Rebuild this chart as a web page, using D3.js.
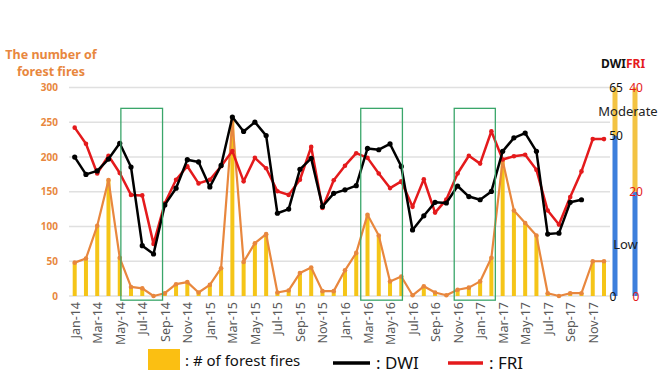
<!DOCTYPE html>
<html>
<head>
<meta charset="utf-8">
<script src="https://cdn.jsdelivr.net/npm/d3@7"></script>
<style>
  body { margin: 0; background: #fff; }
  svg { font-family: "Noto Sans", "Open Sans", sans-serif; }
</style>
</head>
<body>
<svg id="chart" width="666" height="380"></svg>
<script>
// monthly categories, Jan-14 .. Dec-17
var months = ["Jan-14","Feb-14","Mar-14","Apr-14","May-14","Jun-14","Jul-14","Aug-14","Sep-14","Oct-14","Nov-14","Dec-14",
  "Jan-15","Feb-15","Mar-15","Apr-15","May-15","Jun-15","Jul-15","Aug-15","Sep-15","Oct-15","Nov-15","Dec-15",
  "Jan-16","Feb-16","Mar-16","Apr-16","May-16","Jun-16","Jul-16","Aug-16","Sep-16","Oct-16","Nov-16","Dec-16",
  "Jan-17","Feb-17","Mar-17","Apr-17","May-17","Jun-17","Jul-17","Aug-17","Sep-17","Oct-17","Nov-17","Dec-17"];

var fires = [48,54,101,167,55,13,11,0,4,17,20,5,
  16,40,252,49,76,89,5,8,33,41,7,7,
  37,62,117,87,21,28,1,14,5,1,9,12,
  21,55,195,123,105,87,4,0,4,4,50,50];

var dwi = [43.3,37.9,39,42.7,47.6,40.2,15.7,13.1,28.4,33.6,42.5,41.8,
  34,40.7,55.8,51.3,54.2,50,25.8,27.1,39.5,42.9,27.9,32,
  33.1,34.4,46,45.6,47.4,40.4,20.6,25,29.2,29,34.3,31,
  30,32.6,45.1,49.3,50.8,45.1,19.3,19.6,29.2,30,null,null];

var fri = [32.3,29.2,23.5,26.9,23.6,19.4,19.3,10,17.8,22.3,24.9,21.6,
  22.3,24.9,27.8,22,26.5,24.5,20.1,19.4,22.3,28.6,16.9,22.2,
  25,27.4,26.5,23.5,20.7,22,17.1,22.4,16,18.5,23.5,26.9,
  25.4,31.6,26.2,26.8,27.1,24.2,16.4,13.7,19,23.9,30.1,30.1];

var fireTicks = [0,50,100,150,200,250,300];
var dwiTicks = [0,50,65];
var friTicks = [0,20,40];
var titleLines = ["The number of", "forest fires"];
// highlighted periods, as month-index ranges
var boxes = [[4.1,7.8],[25.4,29.1],[33.7,37.35]];

var orange = "#e8873e", barYellow = "#f5c518", red = "#e41a1c", blue = "#3d7fdc", bandYellow = "#f3c343";

var svg = d3.select("#chart");

var x = d3.scalePoint().domain(months).range([74.7, 604]);
var xi = d3.scaleLinear().domain([0, months.length - 1]).range([74.7, 604]);
var y = d3.scaleLinear().domain([0, 300]).range([296, 87.5]);
var yD = d3.scaleLinear().domain([0, 65]).range([296, 87.5]);
var yF = d3.scaleLinear().domain([0, 40]).range([296, 87.5]);

// gridlines
svg.selectAll(".grid")
  .data(fireTicks)
  .enter()
  .append("line")
    .attr("x1", 69).attr("x2", 610)
    .attr("y1", function(d) {return y(d);})
    .attr("y2", function(d) {return y(d);})
    .style("stroke", "#e0e0e0")
    .style("stroke-width", 1.5);

// left axis labels
svg.selectAll(".ltick")
  .data(fireTicks)
  .enter()
  .append("text")
    .text(function(d) {return d;})
    .attr("x", 58)
    .attr("y", function(d) {return y(d) + 3.5;})
    .style("text-anchor", "end")
    .style("font-size", "10px")
    .style("font-weight", "bold")
    .style("fill", orange);

svg.selectAll(".title")
  .data(titleLines)
  .enter()
  .append("text")
    .text(function(d) {return d;})
    .attr("x", 51)
    .attr("y", function(d, i) {return 59 + i * 17;})
    .style("text-anchor", "middle")
    .style("font-size", "12.5px")
    .style("font-weight", "bold")
    .style("fill", orange);

// x axis labels (every second month)
svg.selectAll(".xlab")
  .data(months.filter(function(d, i) {return i % 2 === 0;}))
  .enter()
  .append("text")
    .text(function(d) {return d;})
    .attr("transform", function(d) {return "translate(" + (x(d) + 5) + ",302) rotate(-90)";})
    .style("text-anchor", "end")
    .style("font-size", "12.5px")
    .style("fill", "#595959");

// bars
svg.selectAll(".bar")
  .data(fires)
  .enter()
  .append("rect")
    .attr("x", function(d, i) {return x(months[i]) - 2;})
    .attr("y", function(d) {return y(d);})
    .attr("width", 4)
    .attr("height", function(d) {return y(0) - y(d);})
    .attr("fill", barYellow);

function drawSeries(values, scale, color, width, r) {
  var pts = values.map(function(v, i) {return {m: months[i], v: v};});
  svg.append("path")
    .datum(pts)
    .attr("fill", "none")
    .attr("stroke", color)
    .attr("stroke-width", width)
    .attr("stroke-linejoin", "round")
    .attr("d", d3.line()
      .defined(function(d) {return d.v !== null;})
      .x(function(d) {return x(d.m);})
      .y(function(d) {return scale(d.v);}));
  svg.append("g").selectAll("circle")
    .data(pts.filter(function(d) {return d.v !== null;}))
    .enter()
    .append("circle")
      .attr("cx", function(d) {return x(d.m);})
      .attr("cy", function(d) {return scale(d.v);})
      .attr("r", r)
      .attr("fill", color);
}

drawSeries(fires, y, orange, 2.2, 2.3);
drawSeries(fri, yF, red, 2.5, 2.3);
drawSeries(dwi, yD, "#000", 2.5, 2.6);

// green highlight boxes
svg.selectAll(".box")
  .data(boxes)
  .enter()
  .append("rect")
    .attr("x", function(d) {return xi(d[0]);})
    .attr("y", y(270))
    .attr("width", function(d) {return xi(d[1]) - xi(d[0]);})
    .attr("height", y(-6) - y(270))
    .attr("fill", "none")
    .attr("stroke", "#3aa66a")
    .attr("stroke-width", 1.3);

// right-hand level bars
function levelBar(cx, scale, cut, top) {
  svg.append("rect").attr("x", cx - 2.5).attr("width", 5)
    .attr("y", scale(cut)).attr("height", scale(0) - scale(cut)).attr("fill", blue);
  svg.append("rect").attr("x", cx - 2.5).attr("width", 5)
    .attr("y", scale(top)).attr("height", scale(cut) - scale(top)).attr("fill", bandYellow);
}
levelBar(615, yD, 50, 65);
levelBar(635, yF, 20, 40);

svg.selectAll(".dtick")
  .data(dwiTicks)
  .enter()
  .append("text")
    .text(function(d) {return d;})
    .attr("x", function(d) {return d === 0 ? 613 : 616;})
    .attr("y", function(d) {return yD(d) + 4.5;})
    .style("text-anchor", "middle")
    .style("font-size", "12px")
    .style("fill", "#111");

svg.selectAll(".ftick")
  .data(friTicks)
  .enter()
  .append("text")
    .text(function(d) {return d;})
    .attr("x", 636)
    .attr("y", function(d) {return yF(d) + 4.5;})
    .style("text-anchor", "middle")
    .style("font-size", "12px")
    .style("fill", red);

svg.append("text").attr("x", 628).attr("y", 116)
  .style("text-anchor", "middle").style("font-size", "13px").style("fill", "#222")
  .text("Moderate");
svg.append("text").attr("x", 625.5).attr("y", 248.5)
  .style("text-anchor", "middle").style("font-size", "13px").style("fill", "#222")
  .text("Low");

var head = svg.append("text").attr("x", 601).attr("y", 68)
  .style("font-size", "12px").style("font-weight", "bold");
head.append("tspan").text("DWI").style("fill", "#111");
head.append("tspan").text("FRI").style("fill", red);

// legend
svg.append("rect").attr("x", 148).attr("y", 349).attr("width", 32).attr("height", 21).attr("fill", "#fbbf12");
svg.append("text").attr("x", 185).attr("y", 366).style("font-size", "15px").style("fill", "#111")
  .text(": # of forest fires");
svg.append("line").attr("x1", 333).attr("x2", 370).attr("y1", 363).attr("y2", 363)
  .style("stroke", "#000").style("stroke-width", 3.5);
svg.append("text").attr("x", 376).attr("y", 369).style("font-size", "17px").style("fill", "#111")
  .text(": DWI");
svg.append("line").attr("x1", 448).attr("x2", 483).attr("y1", 363).attr("y2", 363)
  .style("stroke", red).style("stroke-width", 3.5);
svg.append("text").attr("x", 489).attr("y", 369).style("font-size", "17px").style("fill", "#111")
  .text(": FRI");
</script>
</body>
</html>
